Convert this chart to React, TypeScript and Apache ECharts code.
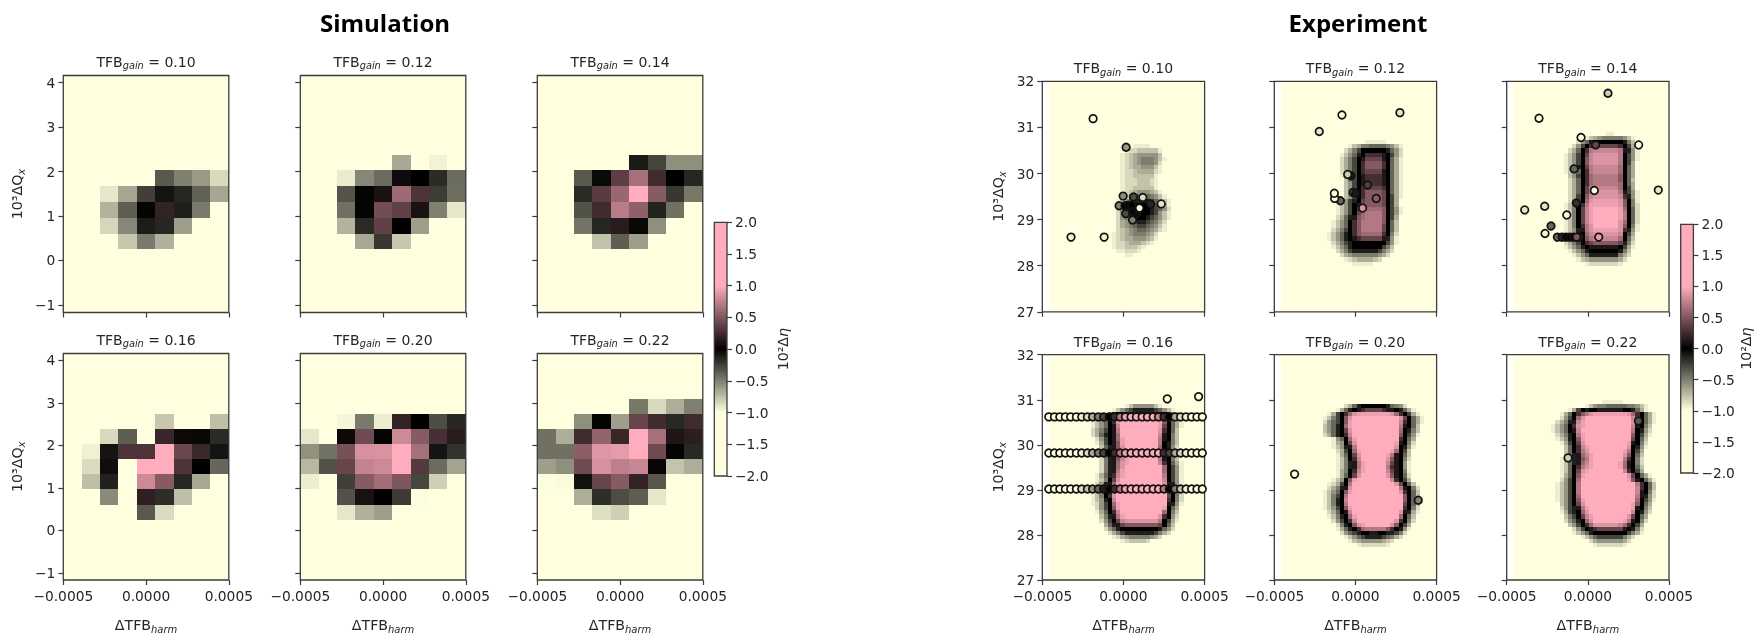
import React, { useEffect, useRef } from "react";
import * as echarts from "echarts";

// Colormap stops: [value, colour]
const cmapStops: [number, string][] = [
  [-2, "#ffffe0"],
  [-1, "#ffffe0"],
  [0, "#000000"],
  [1, "#ffacbc"],
  [2, "#ffacbc"],
];
const gains = ["0.10", "0.12", "0.14", "0.16", "0.20", "0.22"];
const xTicks = [-0.0005, 0, 0.0005];
const simYTicks = [-1, 0, 1, 2, 3, 4];
const expYTicks = [27, 28, 29, 30, 31, 32];

// Simulation: cell values, rows listed from row 4 upward (15 rows x 9 columns in each panel)
const N = -2;
const simFirstRow = 4;
const sim010 = [
  [N, N, N, -0.78, -0.48, -0.69, N, N, N],
  [N, N, -0.84, -0.53, -0.11, -0.15, -0.62, N, N],
  [N, N, -0.7, -0.37, -0.02, 0.2, -0.12, -0.48, N],
  [N, N, -0.9, -0.65, -0.25, -0.08, -0.15, -0.38, -0.65],
  [N, N, N, N, N, -0.35, -0.5, -0.6, -0.85],
];
const sim012 = [
  [N, N, N, -0.66, -0.22, -0.78, N, N, N],
  [N, N, -0.7, -0.17, 0.38, 0, -0.62, N, N],
  [N, N, -0.44, -0.02, 0.45, 0.38, 0.1, -0.5, -0.9],
  [N, N, -0.33, -0.02, 0.1, 0.62, 0.3, -0.24, -0.43],
  [N, N, -0.92, -0.53, -0.42, 0.06, 0, -0.17, -0.42],
  [N, N, N, N, N, -0.66, N, -0.95, N],
];
const sim014 = [
  [N, N, N, -0.76, -0.37, -0.62, N, N, N],
  [N, N, -0.46, -0.15, 0.16, -0.03, -0.56, N, N],
  [N, N, -0.32, 0.25, 0.72, 0.56, -0.14, -0.44, N],
  [N, N, -0.17, 0.35, 0.6, 1, 0.53, -0.22, -0.47],
  [N, N, -0.35, -0.04, 0.36, 0.65, 0.25, 0, -0.15],
  [N, N, N, N, N, -0.1, -0.27, -0.56, -0.56],
];
const sim016 = [
  [N, N, N, N, -0.35, -0.86, N, N, N],
  [N, N, -0.54, N, 0.18, -0.18, -0.75, N, N],
  [N, -0.75, -0.13, N, 0.8, 0.53, -0.15, -0.66, N],
  [N, -0.86, 0.07, N, 1, 1, 0.3, 0, -0.4],
  [N, -0.94, -0.08, 0.3, 0.3, 1, 0.42, 0.23, -0.08],
  [N, N, -0.85, -0.37, N, 0.22, 0.05, -0.03, -0.17],
  [N, N, N, N, N, -0.78, N, N, -0.75],
];
const sim020 = [
  [N, N, -0.9, -0.69, -0.62, N, N, N, N],
  [N, N, -0.32, 0.1, 0, -0.23, -0.99, N, N],
  [-0.93, N, -0.25, 0.53, 0.64, 0.5, -0.28, -0.81, N],
  [-0.72, -0.32, 0.4, 0.76, 0.8, 1, 0.33, -0.42, -0.64],
  [-0.57, -0.45, 0.47, 0.84, 0.85, 1, 0.65, -0.08, -0.2],
  [-0.9, N, 0.05, 0.43, 0.02, 0.8, 0.53, 0.28, 0.16],
  [N, N, -0.96, -0.48, -0.93, 0.2, 0, -0.3, -0.15],
];
const sim022 = [
  [N, N, N, -0.87, -0.81, N, N, N, N],
  [N, N, -0.68, -0.18, -0.3, -0.37, -0.9, N, N],
  [-0.99, -0.98, -0.07, 0.4, 0.53, 0.2, -0.34, N, N],
  [-0.62, -0.56, 0.43, 0.84, 0.74, 0.78, 0.03, -0.77, -0.68],
  [-0.44, -0.44, 0.55, 0.87, 0.9, 1, 0.43, -0.02, -0.16],
  [-0.44, -0.68, 0.25, 0.58, 0.22, 1, 0.65, 0.12, 0.17],
  [N, N, -0.56, -0.02, -0.62, 0.4, 0.25, -0.16, 0.25],
  [N, N, N, N, N, -0.47, -0.85, -0.68, -0.5],
];

// Experiment: field read row by row. Each row is "firstColumn letters";
// each letter is a level of letterLevels below; a number after a letter repeats it.
const letterLevels = [-1, -0.93, -0.85, -0.76, -0.67, -0.58, -0.49, -0.4, -0.27, -0.12, 0, 0.13, 0.27, 0.4, 0.52, 0.62, 0.7, 0.78, 0.86, 0.93, 1];
const exp010First = 15;
const exp010 = ["19 ab4a","17 abc2d5b","17 bcdef5da","17 bcdefg3fdb","17 bcdefg3fca","17 bcde2f3db","17 bc2de4cb","17 bc2d5b","16 abc3d3cb","16 abc3d3cb","16 abc2d5b","16 abcdef3edb","16 acdfgh3gfdb","16 bdfhj4ihfdb","16 begik4jigeb","16 cfhjk4jihfc","16 cfhjk4jifdb","16 cfgijk2jihfdb","16 cefhij2ihgec","16 cefghi2hgfdb","15 acdefgh2gfecb","15 bcdefg3feca","15 bcde2f3edb","15 bc2de3dcb","15 bc2d3cb","15 ab2c3b","17 ab2a"];
const exp012First = 14;
const exp012 = ["19 ab5a","16 bdeg2h4gfdb","15 cegik6jhfc","14 bdfhjkm4lkifc","14 cegikln4lkheb","14 cegikmo4mkheb","14 cegikmo4mkheb","14 cegikmn4lkheb","14 bdgiklm4lkheb","14 adgiklm4lkheb","14 adfiklm4lkheb","14 adfikmn4mkheb","14 adfikmo4nkheb","14 adfikmo4nkieb","13 bdfijkno4nkiea","13 bdfiklno4nkiea","13 bdfikmop4okifb","13 bdfiknpq4okifb","12 acehjlopq4okiea","12 bdfhkmoq5okhd","12 bdfhkmoq5nkhd","11 acegikmoq5nkhd","11 bdfhjkmop5mkgc","11 bdfhjklmn5ljfb","12 cegijk8ifb","12 bdfhjk7igda","13 cegij6igec","13 acefg6feca","15 bcde4dca","16 ab5a"];
const exp014First = 12;
const exp014 = ["21 ab2a","17 bdefg5fdb","15 cfhjk7jgda","13 acfikmn6mkieb","12 acehkmqr6qljfb","12 bdfiknrs6qkifb","12 bdfikors6qkifb","12 bdfikors6qkiea","12 bdfjknqr6pkhea","12 bdehkmqr6pkhea","12 adfikmpq6okhea","13 cehkmpq6okhd","13 cehkmpq6pkhea","13 cehknqr6pkiea","13 cehknqs6qlifb","13 ceikors6rmjfb","13 cfikpst6sokgb","12 bdgkmqt7sokgc","12 bdgknrtu6tpkhc","12 bdgknrtu6tqkhc","12 bdgknrtu6tqkhc","12 bdgknrtu6spkhc","12 bdgkmqsu6sokgb","12 bdfjlqst6smjfb","12 bdfjkprs6rkiea","11 acegjkoqr6pkhd","11 acegikmno6njgc","12 bdfhjkl7kieb","13 bdfhjk7jgda","14 bdfhj7gec","15 bdef7eca","16 abc7ba"];
const exp016First = 12;
const exp016 = ["18 bdf5db","15 bdfhij5ihfdb","13 bfjk2l8k2jgda","11 bdgkmpr9qmkheb","10 bdfhkmsu9tokheb","10 bdfhklru9tnkheb","10 cegiklqu9smkhda","10 cehjklpu9rlkgda","11 cfiklptu8qlkgda","11 beiklotu8qkjgda","12 dhjlosu8pkjfc","12 cgjlosu8pkjfc","12 cgjlortu7qlkgd","12 cgjlortu7qlkgda","12 cgjlpstu7rmkheb","12 cgjlpsu9pkifb","12 cgjlqtu9pkifb","11 behjmrtu9qkifb","11 bdgknsu10rkifb","10 acfjlptu10sljfb","10 bdgjkqu12mkgc","10 bdgklru12nkgc","10 bdgkmsu12nkgc","10 bdfjkru12mkgc","10 bcfikptu11ljfb","11 cfikotu10tkhea","11 behkmru10pkgd","12 dgjlqtu8smkfc","12 cfiknrs8qkieb","13 ehjlno8nkhda","13 cfhjk9jhfc","14 cegij7igec","15 bcefg5feca","16 abcd4ca"];
const exp020First = 11;
const exp020 = ["22 a2","15 cehjk6jhgfca","13 behjklmn4ml2kjheb","11 beikmpst8spmkieb","10 bdgikosu11snkheb","9 acfhikotu11rmkheb","9 adfhjkptu11qlkhda","9 adfhjknsu11pkjgda","10 cehjkmru11okifb","12 bfhkptu10mkhea","12 befknsu9tlkgc","12 bdfjlqu9skjfb","13 ceikptu7tpkid","13 behknsu6tqlkhd","13 bdgkmru6solkgc","13 bdgjlqtu5rnlkfb","13 bdgjlqtu5qmlkfb","13 begkmrtu5rnlkgb","13 behknsu6solkhc","12 bdfkotu8rmkiea","11 bceikqu10snkhd","10 acegjlsu11qlkgc","10 bdfhkotu11smkhda","10 bdgikqu13okhda","10 bdgjkru13okhea","10 bdgjkqu13nkhd","10 bdfikotu12mkgc","11 cehklru11sljeb","11 bdgjkptu10pkhd","12 cfikmru9smkgc","13 cgjkostu6sokiea","13 behjkmpq5omkjfb","14 cfhijk2l2k2j2igc","15 bdfhij4ihgec","16 bdef5edca","18 bc6ba"];
const exp022First = 11;
const exp022 = ["20 ab5a","17 bdfg2h5g2fdb","13 beikjk2l6k2jheb","11 behkmoqst8spmkheb","10 acfikpsu11rnkheb","9 acegjlrtu11smkheb","9 bdfhkmstu11rlkgda","9 bdfhklru12qkjfc","9 acegjkqtu11okieb","10 bdfjkotu11nkhda","11 beiknsu10tlkgc","11 adhkmrtu9skjfb","11 adhkmqsu8tqkiea","11 adhjlprtu7sokhd","11 bdhjloqtu7qmkgc","11 bdhjlprtu6tplkgc","11 bdhkmqstu6tplkhd","11 bdhknstu8rmkiea","11 behkotu10snkheb","11 cfikpu11tolkheb","10 bdfikqu13qmkhd","10 bdfikqu13rmkhd","10 bdfikqu13rlkgc","10 bdfikpu13qljfc","10 bdfikotu12pkifb","11 dfiknsu11tokhea","11 cfijlqtu10tlkgd","11 beijkpsu10rkjfc","12 dgiknrtu8snkhea","12 cfhjkpsu7tqlkgc","13 dfikmps6rpmkiea","14 cfiklmn6lkjgc","14 bdfhjk8igeb","16 bdfhi6geca","17 acef6eca","18 abc6b"];

// Experiment scatter points: [x, y, value]
const pts010 = [[-0.000187,31.19,-1],[0.0000165,30.57,-0.6],[-0.000323,28.62,-0.95],[-0.000119,28.62,-0.95],[0.000233,29.34,-0.9],[0.000167,29.34,-0.15],[0.000119,29.48,-0.85],[0.000062,29.49,-0.3],[-0.000002,29.51,-0.55],[-0.000027,29.3,-0.5],[0.000014,29.13,-0.3],[0.000056,28.99,-0.5],[0.000082,29.14,-0.05],[0.00001,29.3,0],[0.000031,29.31,0],[0.000051,29.31,0],[0.000058,29.17,-0.03],[0.000099,29.25,-1]];
const pts012 = [[-0.000223,30.91,-0.9],[-0.000083,31.27,-1],[0.000274,31.32,-0.9],[-0.000028,29.95,-0.1],[-0.000048,29.98,-0.8],[-0.000093,29.41,-0.4],[-0.000128,29.46,-1],[-0.00013,29.57,-1],[-0.000015,29.59,-0.3],[0.000001,29.57,-0.1],[0.000075,29.75,0.35],[0.000128,29.46,0.55],[0.000044,29.25,0.85]];
const pts014 = [[0.000124,31.74,-0.8],[-0.000301,31.2,-1],[-0.000042,30.78,-1],[0.000048,30.62,0.4],[0.000313,30.62,-1],[-0.000085,30.1,-0.4],[0.000434,29.64,-0.9],[0.00004,29.63,-1],[-0.000071,29.36,-0.2],[-0.000266,29.29,-0.9],[-0.000389,29.21,-0.9],[-0.00013,29.1,-1],[-0.000227,28.86,-0.4],[-0.000264,28.7,-0.95],[-0.000188,28.62,-0.4],[-0.000159,28.62,-0.15],[-0.000134,28.62,-0.02],[-0.00011,28.62,0],[-0.000089,28.62,0.05],[-0.000054,28.62,-0.2],[-0.000069,28.62,0.5],[0.000067,28.62,0.9]];
const pts016Extra = [[0.00027,31.02,-1],[0.000463,31.07,-1]];
const pts020 = [[-0.000375,29.35,-1],[0.000387,28.77,-0.5]];
const pts022 = [[-0.000122,29.71,-0.8],[0.000311,30.53,-0.35]];
// The three scanned lines of the 0.16 panel
const scanX = [-0.00046,-0.000425,-0.000392,-0.000358,-0.000325,-0.00029,-0.000257,-0.000222,-0.00019,-0.000155,-0.000122,-0.000087,-0.000054,-0.00002,0.000012,0.000047,0.00008,0.000115,0.000148,0.000183,0.000216,0.00025,0.000283,0.000318,0.000352,0.000386,0.00042,0.000453,0.000486];
const scanLines: [number, string][] = [
  [30.62, "a6bcegikmqtu5rmkecba3"],
  [29.82, "a6bcegikmqtu6miecba3"],
  [29.02, "a6cdfhjkmqtu6qkgdba3"],
];

const FONT = "DejaVu Sans";
const INK = "#262626";
const FRAME = "#3c3c3c";

const parseLetters = (s: string): number[] => {
  const out: number[] = [];
  for (const m of s.matchAll(/([a-u])(\d*)/g)) {
    const n = m[2] ? parseInt(m[2], 10) : 1;
    for (let i = 0; i < n; i++) out.push(letterLevels[m[1].charCodeAt(0) - 97]);
  }
  return out;
};
const hex = (c: string) => [1, 3, 5].map((i) => parseInt(c.slice(i, i + 2), 16));
const colorOf = (v: number) => {
  for (let i = 1; i < cmapStops.length; i++) {
    const [v1, c1] = cmapStops[i];
    if (v <= v1) {
      const [v0, c0] = cmapStops[i - 1];
      const t = Math.max(0, (v - v0) / (v1 - v0));
      const a = hex(c0), b = hex(c1);
      return `rgb(${a.map((x, k) => Math.round(x + (b[k] - x) * t)).join(",")})`;
    }
  }
  return cmapStops[cmapStops.length - 1][1];
};
const dashMinus = (s: string) => s.replace("-", "\u2212");
const renderCell = (_: any, api: any) => {
  const a = api.coord([api.value(0), api.value(3)]);
  const b = api.coord([api.value(1), api.value(2)]);
  const x = Math.round(a[0]), y = Math.round(a[1]);
  return {
    type: "rect",
    shape: { x, y, width: Math.round(b[0]) - x, height: Math.round(b[1]) - y },
    style: { fill: colorOf(api.value(4)) },
  };
};

const SIM_COLS = 9, SIM_ROWS = 15, SIM_YMIN = -1.17, SIM_YMAX = 4.16;
const simCells = (rows: number[][]) => {
  const out: number[][] = [];
  const dx = 0.001 / SIM_COLS, dy = (SIM_YMAX - SIM_YMIN) / SIM_ROWS;
  for (let r = 0; r < SIM_ROWS; r++)
    for (let c = 0; c < SIM_COLS; c++) {
      const v = rows[r - simFirstRow]?.[c] ?? N;
      out.push([-0.0005 + c * dx, -0.0005 + (c + 1) * dx, SIM_YMIN + r * dy, SIM_YMIN + (r + 1) * dy, v]);
    }
  return out;
};
const EXP_X0 = -0.00046, EXP_COLS = 37, EXP_ROWS = 55;
const expCells = (rows: string[], first: number) => {
  const dx = (0.0005 - EXP_X0) / EXP_COLS, dy = 5 / EXP_ROWS;
  const out: number[][] = [[EXP_X0, 0.0005, 27, 32, N]];
  rows.forEach((row, i) => {
    const [start, letters] = row.split(" ");
    const t = first + i;
    parseLetters(letters).forEach((v, k) => {
      const c = parseInt(start, 10) + k;
      out.push([EXP_X0 + c * dx, EXP_X0 + (c + 1) * dx, 32 - (t + 1) * dy, 32 - t * dy, v]);
    });
  });
  return out;
};
const scanPoints = () =>
  scanLines.flatMap(([y, s]) => {
    const vals = parseLetters(s);
    return scanX.map((x, i) => [x, y, vals[i]]);
  });

const richAxis = {
  a: { fontFamily: FONT, fontSize: 14.2, color: INK, lineHeight: 18 },
  b: { fontFamily: FONT, fontSize: 10, fontStyle: "italic", color: INK, lineHeight: 18, verticalAlign: "bottom" },
  e: { fontFamily: FONT, fontSize: 14.2, fontStyle: "italic", color: INK, lineHeight: 18 },
};

const panels = [
  { gridLeft: [63.3, 300.3, 537.3], tops: [75.5, 353.5], w: 165.5, h: 237, yMin: SIM_YMIN, yMax: SIM_YMAX, yTicks: simYTicks, nameGap: 37, titleUp: 14 },
  { gridLeft: [1042.3, 1274.3, 1506.7], tops: [81.3, 354.7], w: 162.3, h: 230.5, yMin: 27, yMax: 32, yTicks: expYTicks, nameGap: 35, titleUp: 13 },
];
const simData = [sim010, sim012, sim014, sim016, sim020, sim022];
const expData: [string[], number, number[][]][] = [
  [exp010, exp010First, pts010],
  [exp012, exp012First, pts012],
  [exp014, exp014First, pts014],
  [exp016, exp016First, [...scanPoints(), ...pts016Extra]],
  [exp020, exp020First, pts020],
  [exp022, exp022First, pts022],
];

const grids: any[] = [], xAxes: any[] = [], yAxes: any[] = [], series: any[] = [], graphics: any[] = [];
const gridStyle = { show: true, borderColor: FRAME, borderWidth: 1.3, backgroundColor: "transparent" };
const tick = { show: true, length: 5, lineStyle: { color: FRAME, width: 1.2 } };
const label = { fontFamily: FONT, fontSize: 13.8, color: INK };
const noLine = { show: false, onZero: false };

panels.forEach((p, pi) => {
  for (let i = 0; i < 6; i++) {
    const col = i % 3, row = Math.floor(i / 3);
    const idx = grids.length;
    const left = p.gridLeft[col], top = p.tops[row];
    grids.push({ ...gridStyle, left, top, width: p.w, height: p.h });
    xAxes.push({
      gridIndex: idx, type: "value", position: "bottom", min: -0.0005, max: 0.0005, interval: 0.0005,
      axisLine: noLine, splitLine: { show: false },
      axisTick: { ...tick, customValues: xTicks },
      axisLabel: { ...label, show: row === 1, margin: 9, customValues: xTicks, formatter: (v: number) => dashMinus(v.toFixed(4)) },
      name: row === 1 ? "{a|ΔTFB}{b|harm}" : "", nameLocation: "middle", nameGap: 36, nameTextStyle: { rich: richAxis },
    });
    yAxes.push({
      gridIndex: idx, type: "value", position: "left", min: p.yMin, max: p.yMax,
      axisLine: noLine, splitLine: { show: false },
      axisTick: { ...tick, customValues: p.yTicks },
      axisLabel: { ...label, show: col === 0, margin: 8, customValues: p.yTicks, formatter: (v: number) => dashMinus(String(v)) },
      name: col === 0 ? "{a|10³ΔQ}{b|x}" : "", nameLocation: "middle", nameGap: p.nameGap, nameRotate: 90, nameTextStyle: { rich: richAxis },
    });
    const cells = pi === 0 ? simCells(simData[i]) : expCells(expData[i][0], expData[i][1]);
    series.push({
      type: "custom", xAxisIndex: idx, yAxisIndex: idx, z: -1, silent: true, clip: true,
      data: cells, renderItem: renderCell, encode: { x: [0, 1], y: [2, 3] }, animation: false,
    });
    if (pi === 1) {
      series.push({
        type: "scatter", xAxisIndex: idx, yAxisIndex: idx, z: 3, silent: true, symbolSize: 7.6,
        data: expData[i][2], animation: false,
        itemStyle: { opacity: 1, color: (d: any) => colorOf(d.value[2]), borderColor: "#111111", borderWidth: 1.7 },
      });
    }
    graphics.push({
      type: "text", x: left + p.w / 2, y: top - p.titleUp, silent: true,
      style: {
        text: `{a|TFB}{b|gain}{a| = ${gains[i]}}`, align: "center", verticalAlign: "middle",
        rich: {
          a: { fontFamily: FONT, fontSize: 14, fill: INK, lineHeight: 18 },
          b: { fontFamily: FONT, fontSize: 9.8, fontStyle: "italic", fill: INK, lineHeight: 18, verticalAlign: "bottom" },
        },
      },
    });
  }
});

// Colour bars
const bars = [
  { left: 714.3, top: 222.3, h: 253.7, gap: 47 },
  { left: 1680.7, top: 224.3, h: 248.7, gap: 44 },
];
const barSpan = [[0, 1, -2, 2, 0]];
bars.forEach((b) => {
  const idx = grids.length;
  grids.push({ ...gridStyle, left: b.left, top: b.top, width: 12.7, height: b.h });
  xAxes.push({ gridIndex: idx, type: "value", min: 0, max: 1, show: false });
  yAxes.push({
    gridIndex: idx, type: "value", position: "right", min: -2, max: 2, interval: 0.5,
    axisLine: noLine, splitLine: { show: false }, axisTick: tick,
    axisLabel: { ...label, margin: 8, formatter: (v: number) => dashMinus(v.toFixed(1)) },
    name: "{a|10²Δ}{e|η}", nameLocation: "middle", nameGap: b.gap, nameRotate: 90, nameTextStyle: { rich: richAxis },
  });
  series.push({
    type: "custom", xAxisIndex: idx, yAxisIndex: idx, z: -1, silent: true, data: barSpan, encode: { x: [0, 1], y: [2, 3] }, animation: false,
    renderItem: (_: any, api: any) => {
      const a = api.coord([api.value(0), api.value(3)]);
      const c = api.coord([api.value(1), api.value(2)]);
      return {
        type: "rect",
        shape: { x: a[0], y: a[1], width: c[0] - a[0], height: c[1] - a[1] },
        style: {
          fill: new echarts.graphic.LinearGradient(0, 1, 0, 0, cmapStops.map(([v, color]) => ({ offset: (v + 2) / 4, color }))),
        },
      };
    },
  });
});

graphics.push(
  { type: "text", x: 385, y: 22, silent: true, style: { text: "Simulation", font: "bold 24px 'Open Sans'", fill: "#000", align: "center", verticalAlign: "middle" } },
  { type: "text", x: 1358, y: 22, silent: true, style: { text: "Experiment", font: "bold 24px 'Open Sans'", fill: "#000", align: "center", verticalAlign: "middle" } }
);

const option = { animation: false, backgroundColor: "#fff", grid: grids, xAxis: xAxes, yAxis: yAxes, series, graphic: graphics };

export default function App() {
  const ref = useRef<HTMLDivElement>(null);
  useEffect(() => {
    const chart = echarts.init(ref.current!, null, { renderer: "svg" });
    chart.setOption(option);
    return () => chart.dispose();
  }, []);
  return <div ref={ref} style={{ position: "fixed", left: 0, top: 0, width: 1758, height: 635, background: "#fff", filter: "blur(0.6px)" }} />;
}
